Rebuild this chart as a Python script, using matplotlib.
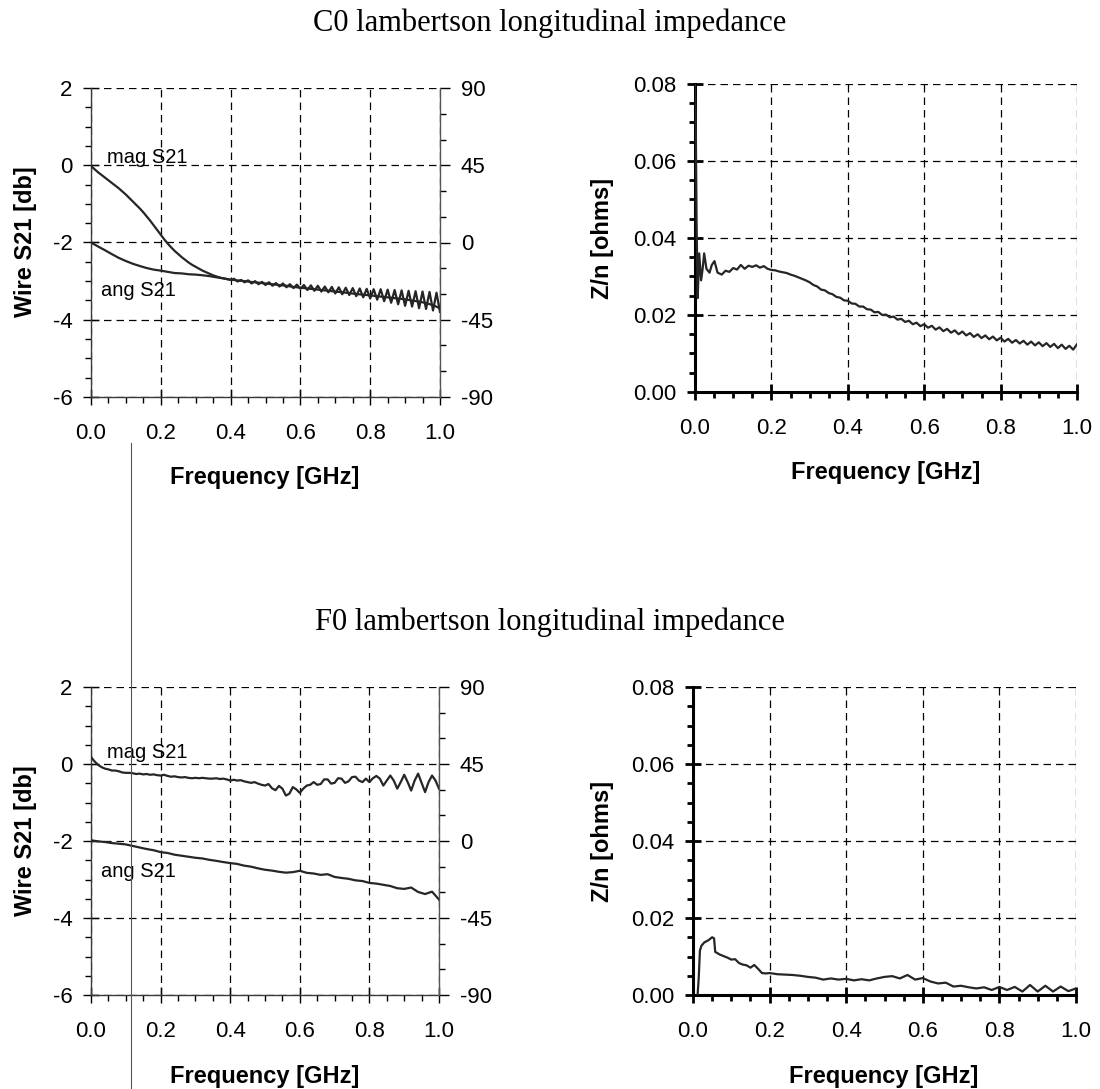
"""Lambertson longitudinal impedance - wire S21 and Z/n, C0 and F0 magnets."""
from __future__ import annotations

import matplotlib
matplotlib.use("Agg")
import matplotlib.pyplot as plt
from matplotlib.lines import Line2D
from matplotlib.ticker import FormatStrFormatter, MultipleLocator
import numpy as np

# ----------------------------------------------------------------------
# data
# ----------------------------------------------------------------------
f_fine = np.round(np.arange(0, 101) * 0.01, 2)   # 0.01 GHz grid
f_coarse = np.round(np.arange(0, 51) * 0.02, 2)  # 0.02 GHz grid

# C0, wire S21 magnitude [db]
c0_mag = [
    -0.02, -0.10, -0.18, -0.25, -0.32, -0.39, -0.46, -0.53, -0.60, -0.68,
    -0.76, -0.85, -0.94, -1.03, -1.12, -1.22, -1.33, -1.44, -1.56, -1.68,
    -1.80, -1.92, -2.03, -2.13, -2.22, -2.30, -2.38, -2.45, -2.52, -2.58,
    -2.63, -2.68, -2.73, -2.77, -2.81, -2.85, -2.88, -2.91, -2.93, -2.95,
    -2.97, -2.94, -3.01, -2.97, -3.03, -2.98, -3.06, -3.00, -3.08, -3.02,
    -3.10, -3.03, -3.12, -3.05, -3.14, -3.06, -3.16, -3.08, -3.18, -3.09,
    -3.20, -3.10, -3.23, -3.11, -3.25, -3.12, -3.27, -3.14, -3.29, -3.15,
    -3.32, -3.16, -3.34, -3.17, -3.36, -3.18, -3.39, -3.19, -3.42, -3.20,
    -3.45, -3.21, -3.48, -3.21, -3.52, -3.22, -3.56, -3.23, -3.60, -3.24,
    -3.64, -3.25, -3.66, -3.26, -3.70, -3.27, -3.72, -3.28, -3.76, -3.30,
    -3.80,
]
# C0, wire S21 phase [deg]
c0_ang = [
    0.0, -2.3, -4.5, -6.8, -9.0, -10.8, -12.4, -13.7, -14.9, -15.8,
    -16.4, -17.1, -17.8, -18.0, -18.5, -18.7, -19.1, -19.6, -20.3, -20.9,
    -21.6, -22.1, -22.5, -23.0, -23.4, -23.9, -24.3, -24.8, -25.2, -25.9,
    -26.3, -26.8, -27.2, -27.7, -28.1, -28.6, -29.0, -29.5, -30.0, -30.4,
    -30.8, -31.3, -31.7, -32.2, -32.6, -33.1, -33.8, -34.4, -35.3, -36.5,
    -38.3,
]

# C0, Z/n [ohms] (finer sampling around the low-frequency spike)
c0_zn_f = [
    0.000, 0.002, 0.004, 0.007, 0.009, 0.011, 0.016, 0.020, 0.024, 0.030,
    0.038, 0.044, 0.051, 0.059,
    0.07, 0.08, 0.09, 0.10, 0.11, 0.12, 0.13, 0.14, 0.15, 0.16, 0.17,
    0.18, 0.19, 0.20, 0.21, 0.22, 0.23, 0.24, 0.25, 0.26, 0.27, 0.28,
    0.29, 0.30, 0.31, 0.32, 0.33, 0.34, 0.35, 0.36, 0.37, 0.38, 0.39,
    0.40, 0.41, 0.42, 0.43, 0.44, 0.45, 0.46, 0.47, 0.48, 0.49, 0.50,
    0.51, 0.52, 0.53, 0.54, 0.55, 0.56, 0.57, 0.58, 0.59, 0.60, 0.61,
    0.62, 0.63, 0.64, 0.65, 0.66, 0.67, 0.68, 0.69, 0.70, 0.71, 0.72,
    0.73, 0.74, 0.75, 0.76, 0.77, 0.78, 0.79, 0.80, 0.81, 0.82, 0.83,
    0.84, 0.85, 0.86, 0.87, 0.88, 0.89, 0.90, 0.91, 0.92, 0.93, 0.94,
    0.95, 0.96, 0.97, 0.98, 0.99, 1.00,
]
c0_zn = [
    0.0800, 0.0690, 0.0450, 0.0244, 0.0300, 0.0360, 0.0290, 0.0320, 0.0360,
    0.0320, 0.0310, 0.0330, 0.0340, 0.0310,
    0.0305, 0.0315, 0.0312, 0.0322, 0.0318, 0.0330, 0.0320, 0.0328, 0.0325,
    0.0329, 0.0323, 0.0327, 0.0320, 0.0317, 0.0316, 0.0313, 0.0311, 0.0309,
    0.0305, 0.0302, 0.0298, 0.0294, 0.0290, 0.0285, 0.0278, 0.0274, 0.0266,
    0.0264, 0.0257, 0.0254, 0.0247, 0.0245, 0.0238, 0.0237, 0.0230, 0.0229,
    0.0222, 0.0222, 0.0215, 0.0214, 0.0207, 0.0208, 0.0200, 0.0201, 0.0194,
    0.0196, 0.0188, 0.0190, 0.0182, 0.0185, 0.0176, 0.0180, 0.0171, 0.0176,
    0.0167, 0.0172, 0.0162, 0.0168, 0.0158, 0.0164, 0.0154, 0.0160, 0.0150,
    0.0157, 0.0147, 0.0153, 0.0143, 0.0150, 0.0140, 0.0147, 0.0137, 0.0144,
    0.0134, 0.0141, 0.0131, 0.0138, 0.0128, 0.0135, 0.0126, 0.0133, 0.0123,
    0.0131, 0.0121, 0.0129, 0.0119, 0.0127, 0.0117, 0.0125, 0.0114, 0.0123,
    0.0112, 0.0120, 0.0110, 0.0124,
]

# F0, wire S21 magnitude [db]
f0_mag = [
    0.18, 0.07, -0.02, -0.08, -0.12, -0.14, -0.17, -0.17, -0.19, -0.22,
    -0.23, -0.23, -0.24, -0.26, -0.25, -0.27, -0.26, -0.28, -0.27, -0.29,
    -0.30, -0.28, -0.31, -0.33, -0.32, -0.34, -0.35, -0.34, -0.36, -0.37,
    -0.36, -0.37, -0.36, -0.37, -0.38, -0.38, -0.37, -0.39, -0.38, -0.40,
    -0.43, -0.41, -0.43, -0.42, -0.45, -0.47, -0.49, -0.47, -0.51, -0.54,
    -0.56, -0.52, -0.63, -0.68, -0.57, -0.64, -0.82, -0.77, -0.60, -0.66,
    -0.75, -0.64, -0.56, -0.54, -0.47, -0.54, -0.52, -0.40, -0.40, -0.51,
    -0.49, -0.37, -0.38, -0.49, -0.45, -0.34, -0.33, -0.43, -0.47, -0.38,
    -0.47, -0.37, -0.31, -0.38, -0.56, -0.43, -0.30, -0.43, -0.64, -0.47,
    -0.28, -0.47, -0.69, -0.43, -0.25, -0.49, -0.73, -0.47, -0.30, -0.43,
    -0.64,
]
# F0, wire S21 phase [deg]
f0_ang = [
    0.4, -0.2, -0.6, -1.2, -1.6, -2.0, -2.9, -3.8, -4.7, -5.4,
    -6.5, -7.0, -8.0, -8.6, -9.2, -9.8, -10.2, -11.0, -11.6, -12.3,
    -12.9, -13.4, -14.4, -15.0, -16.0, -16.8, -17.3, -18.0, -18.5, -18.2,
    -17.4, -18.6, -19.0, -19.8, -19.4, -21.0, -21.6, -22.1, -23.0, -23.4,
    -24.5, -24.9, -25.6, -26.3, -27.6, -28.0, -27.2, -29.8, -31.0, -29.6,
    -34.2,
]

# F0, Z/n [ohms]
f0_zn_f = [
    0.012, 0.015, 0.018, 0.022, 0.030, 0.040, 0.050, 0.055, 0.058, 0.065,
    0.07, 0.08, 0.09, 0.10, 0.11, 0.12, 0.13, 0.14, 0.15, 0.16, 0.17,
    0.18, 0.19, 0.20, 0.22, 0.24, 0.26, 0.28, 0.30, 0.32, 0.34, 0.36,
    0.38, 0.40, 0.42, 0.44, 0.46, 0.48, 0.50, 0.52, 0.54, 0.56, 0.58,
    0.60, 0.62, 0.64, 0.66, 0.68, 0.70, 0.72, 0.74, 0.76, 0.78, 0.80,
    0.82, 0.84, 0.86, 0.88, 0.90, 0.92, 0.94, 0.96, 0.98, 1.00,
]
f0_zn = [
    0.0000, 0.0045, 0.0115, 0.0128, 0.0137, 0.0142, 0.0150, 0.0147, 0.0112,
    0.0108,
    0.0105, 0.0101, 0.0097, 0.0092, 0.0093, 0.0083, 0.0079, 0.0077, 0.0071,
    0.0078, 0.0068, 0.0057, 0.0056, 0.0057, 0.0054, 0.0053, 0.0052, 0.0050,
    0.0047, 0.0045, 0.0040, 0.0043, 0.0040, 0.0042, 0.0038, 0.0041, 0.0038,
    0.0043, 0.0047, 0.0049, 0.0043, 0.0052, 0.0040, 0.0044, 0.0035, 0.0030,
    0.0032, 0.0022, 0.0024, 0.0020, 0.0017, 0.0020, 0.0013, 0.0021, 0.0013,
    0.0021, 0.0009, 0.0026, 0.0009, 0.0024, 0.0009, 0.0022, 0.0010, 0.0017,
]

W, H = 1100, 1089
CURVE = dict(color="#262626", lw=1.6)
GRID = dict(color="black", lw=0.9, linestyle=(0, (6, 4)))


def px_axes(fig, left, top, right, bottom):
    return fig.add_axes([left / W, 1 - bottom / H,
                         (right - left) / W, (bottom - top) / H])


def fx(x):
    return x / W


def fy(y):
    return 1 - y / H


def style_x(ax, spine_lw):
    ax.set_xlim(0, 1)
    ax.xaxis.set_major_locator(MultipleLocator(0.2))
    ax.xaxis.set_minor_locator(MultipleLocator(0.05))
    ax.xaxis.set_major_formatter(FormatStrFormatter("%.1f"))
    ax.tick_params(axis="x", which="major", direction="inout", length=11,
                   width=spine_lw, pad=13, labelsize=16)
    ax.tick_params(axis="x", which="minor", direction="out", length=4,
                   width=spine_lw)


def s21_panel(ax, mag, ang, mag_lab_y, ang_lab_y):
    ax.set_ylim(-6, 2)
    ax.yaxis.set_major_locator(MultipleLocator(2))
    ax.yaxis.set_minor_locator(MultipleLocator(0.5))
    style_x(ax, 1.0)
    ax.tick_params(axis="y", which="major", direction="inout", length=11,
                   width=1.0, pad=8, labelsize=16)
    ax.tick_params(axis="y", which="minor", direction="out", length=4,
                   width=1.0)
    ax.grid(True, which="major", **GRID)
    for s in ("top", "right"):
        ax.spines[s].set_visible(False)
    for s in ("left", "bottom"):
        ax.spines[s].set_linewidth(1.0)
        ax.spines[s].set_color("#3a3a3a")
    ax.plot(f_fine, mag, zorder=3, **CURVE)
    ax.text(0.045, mag_lab_y, "mag S21", fontsize=14.5, va="center")
    ax.text(0.03, ang_lab_y, "ang S21", fontsize=14.5, va="center")

    ax2 = ax.twinx()
    ax2.set_ylim(-90, 90)
    ax2.set_yticks([-90, -45, 0, 45, 90])
    ax2.yaxis.set_minor_locator(MultipleLocator(15))
    ax2.tick_params(axis="y", which="major", direction="out", length=7,
                    width=1.0, pad=8, labelsize=16)
    ax2.tick_params(axis="y", which="minor", direction="out", length=4,
                    width=1.0)
    for s in ("top", "left", "bottom"):
        ax2.spines[s].set_visible(False)
    ax2.spines["right"].set_linewidth(1.0)
    ax2.spines["right"].set_color("#555555")
    ax2.plot(f_coarse, ang, zorder=3, **CURVE)


def zn_panel(ax, f, zn):
    ax.set_ylim(0, 0.08)
    ax.yaxis.set_major_locator(MultipleLocator(0.02))
    ax.yaxis.set_minor_locator(MultipleLocator(0.005))
    ax.yaxis.set_major_formatter(FormatStrFormatter("%.2f"))
    style_x(ax, 2.0)
    ax.tick_params(axis="y", which="major", direction="inout", length=11,
                   width=2.0, pad=8, labelsize=16)
    ax.tick_params(axis="y", which="minor", direction="out", length=4,
                   width=2.0)
    ax.grid(True, which="major", **GRID)
    for s in ("top", "right"):
        ax.spines[s].set_visible(False)
    for s in ("left", "bottom"):
        ax.spines[s].set_linewidth(2.2)
    ax.plot(f, zn, zorder=3, **CURVE)


def main() -> None:
    plt.rcParams["font.family"] = ["Liberation Sans", "DejaVu Sans"]
    plt.rcParams["axes.unicode_minus"] = False
    fig = plt.figure(figsize=(W / 100, H / 100), dpi=100)

    # ------------------------------------------------------------------
    # C0 row
    # ------------------------------------------------------------------
    ax = px_axes(fig, 91, 88, 440, 397)
    s21_panel(ax, c0_mag, c0_ang, 0.2, -3.25)
    ax = px_axes(fig, 695, 84, 1077, 392)
    zn_panel(ax, c0_zn_f, c0_zn)

    # ------------------------------------------------------------------
    # F0 row
    # ------------------------------------------------------------------
    ax = px_axes(fig, 91, 687, 439, 995)
    s21_panel(ax, f0_mag, f0_ang, 0.3, -2.8)
    ax = px_axes(fig, 693, 687, 1076, 995)
    zn_panel(ax, f0_zn_f, f0_zn)

    # titles and axis labels
    serif = ["Liberation Serif", "DejaVu Serif"]
    fig.text(0.5, fy(23), "C0 lambertson longitudinal impedance",
             family=serif, fontsize=22, ha="center", va="center")
    fig.text(0.5, fy(622), "F0 lambertson longitudinal impedance",
             family=serif, fontsize=22, ha="center", va="center")

    for cy in (242, 841):
        fig.text(fx(26), fy(cy), "Wire S21 [db]", rotation=90,
                 fontsize=17, fontweight="bold", ha="center", va="center")
    for cy in (238, 841):
        fig.text(fx(602), fy(cy), "Z/n [ohms]", rotation=90,
                 fontsize=17, fontweight="bold", ha="center", va="center")
    for cx, cy in ((265, 478), (886, 473), (265, 1076), (884, 1076)):
        fig.text(fx(cx), fy(cy), "Frequency [GHz]", fontsize=17,
                 fontweight="bold", ha="center", va="center")

    # scanner streak running down the left column
    fig.add_artist(Line2D([fx(131), fx(131)], [fy(443), 0],
                          color="#555555", lw=0.8))

    fig.savefig("out.png", dpi=100)
    plt.close(fig)


if __name__ == "__main__":
    main()
